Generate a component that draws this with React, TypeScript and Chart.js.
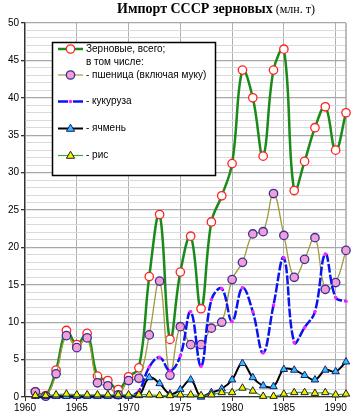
import React, { useEffect, useRef } from "react";
import { Chart, registerables } from "chart.js";

Chart.register(...registerables);

const years = [1961,1962,1963,1964,1965,1966,1967,1968,1969,1970,1971,1972,1973,1974,1975,1976,1977,1978,1979,1980,1981,1982,1983,1984,1985,1986,1987,1988,1989,1990,1991];
const total = [0.7,0.2,3.6,8.9,7.0,8.5,2.8,2.2,1.0,2.7,3.9,16.1,24.4,7.7,16.7,21.5,11.8,23.4,26.9,31.2,43.7,40.0,32.2,43.7,46.5,27.6,31.5,36.0,38.8,33.0,38.0];
const wheat = [0.7,0.1,3.1,8.2,6.6,7.9,1.9,1.5,0.3,2.2,2.5,8.3,15.5,2.9,9.4,7.0,7.0,9.2,10.0,15.7,18.0,21.8,22.1,27.2,21.6,16.0,18.4,21.3,14.4,15.3,19.6];
const corn = [0,0,0,0,0,0,0,0,0,0.1,0.8,4.0,5.3,3.5,5.5,11.4,4.1,13.0,14.5,10.1,14.6,11.4,5.9,12.3,18.6,7.3,9.3,11.4,19.1,13.3,12.8];
const barley = [0.1,0.1,0.1,0.1,0.1,0.1,0.1,0.1,0.1,0.1,0.2,2.6,1.8,0.4,1.0,2.3,0,0.6,1.1,2.3,4.5,2.6,1.5,1.4,3.7,3.6,2.9,2.3,3.6,3.4,4.7];
const rice = [0.2,0.2,0.3,0.4,0.3,0.3,0.3,0.3,0.3,0.3,0.3,0.3,0.2,0.2,0.3,0.3,0.2,0.3,0.6,0.6,1.2,0.8,0.1,0.1,0.4,0.6,0.6,0.5,0.6,0.3,0.4];

const titleBold = "Импорт СССР зерновых";
const titleUnit = " (млн. т)";
const legendLabels = ["Зерновые, всего;", "в том числе:", "- пшеница (включая муку)", "- кукуруза", "- ячмень", "- рис"];

const SANS = "'Liberation Sans', Arial, sans-serif";

function pts(arr: number[]) {
  return arr.map((v, i) => ({ x: years[i], y: v }));
}

function drawTri(ctx: CanvasRenderingContext2D, x: number, y: number, r: number, fill: string, stroke: string) {
  ctx.beginPath();
  const h = r * 1.5;
  ctx.moveTo(x, y - r);
  ctx.lineTo(x + r * 0.95, y + r * 0.65);
  ctx.lineTo(x - r * 0.95, y + r * 0.65);
  ctx.closePath();
  ctx.fillStyle = fill; ctx.fill();
  ctx.strokeStyle = stroke; ctx.lineWidth = 1; ctx.stroke();
  void h;
}

const overlay = {
  id: "overlay",
  beforeDatasetsDraw(chart: any) {
    const ctx = chart.ctx as CanvasRenderingContext2D;
    const a = chart.chartArea;
    ctx.save();
    ctx.strokeStyle = "#a6a6a6";
    ctx.lineWidth = 1.5;
    ctx.beginPath();
    ctx.moveTo(a.right, a.top);
    ctx.lineTo(a.right, a.bottom);
    ctx.stroke();
    ctx.restore();
  },
  afterDraw(chart: any) {
    const ctx = chart.ctx as CanvasRenderingContext2D;
    ctx.save();
    // title
    ctx.fillStyle = "#000";
    ctx.textBaseline = "alphabetic";
    ctx.textAlign = "left";
    ctx.font = "bold 14px 'Liberation Serif', 'Times New Roman', serif";
    const w1 = ctx.measureText(titleBold).width;
    ctx.font = "12px 'Liberation Serif', 'Times New Roman', serif";
    const w2 = ctx.measureText(titleUnit).width;
    const tx = 216 - (w1 + w2) / 2;
    ctx.font = "bold 14px 'Liberation Serif', 'Times New Roman', serif";
    ctx.fillText(titleBold, tx, 13);
    ctx.font = "12px 'Liberation Serif', 'Times New Roman', serif";
    ctx.fillText(titleUnit, tx + w1, 13);

    // legend box
    const bx = 52.5, by = 42.5, bw = 163, bh = 133;
    ctx.fillStyle = "#ffffff";
    ctx.fillRect(bx, by, bw, bh);
    ctx.strokeStyle = "#000";
    ctx.lineWidth = 1.5;
    ctx.strokeRect(bx, by, bw, bh);

    const lx0 = 58, lx1 = 83, mx = 70.5, textX = 86;
    ctx.font = `10px ${SANS}`;
    ctx.textBaseline = "middle";
    ctx.fillStyle = "#000";

    // total
    let y = 49;
    ctx.strokeStyle = "#1a8a1a"; ctx.lineWidth = 2.5; ctx.setLineDash([]);
    ctx.beginPath(); ctx.moveTo(lx0, y); ctx.lineTo(lx1, y); ctx.stroke();
    ctx.beginPath(); ctx.arc(mx, y, 4.2, 0, Math.PI * 2);
    ctx.fillStyle = "#fff"; ctx.fill(); ctx.strokeStyle = "#ff2020"; ctx.lineWidth = 1.3; ctx.stroke();
    ctx.fillStyle = "#000";
    ctx.fillText(legendLabels[0], textX, y);
    ctx.fillText(legendLabels[1], textX, 62);

    // wheat
    y = 75;
    ctx.strokeStyle = "#a09a3c"; ctx.lineWidth = 1.2;
    ctx.beginPath(); ctx.moveTo(lx0, y); ctx.lineTo(lx1, y); ctx.stroke();
    ctx.beginPath(); ctx.arc(mx, y, 4.2, 0, Math.PI * 2);
    ctx.fillStyle = "#f29fd3"; ctx.fill(); ctx.strokeStyle = "#3a2f9a"; ctx.lineWidth = 1.3; ctx.stroke();
    ctx.fillStyle = "#000";
    ctx.fillText(legendLabels[2], textX, y);

    // corn
    y = 101.5;
    ctx.strokeStyle = "#0a14f0"; ctx.lineWidth = 2.5;
    ctx.beginPath(); ctx.moveTo(lx0, y); ctx.lineTo(lx0 + 10, y); ctx.stroke();
    ctx.beginPath(); ctx.moveTo(lx1 - 10, y); ctx.lineTo(lx1, y); ctx.stroke();
    ctx.beginPath(); ctx.arc(mx, y, 1.8, 0, Math.PI * 2);
    ctx.fillStyle = "#ff22ff"; ctx.fill();
    ctx.fillStyle = "#000";
    ctx.fillText(legendLabels[3], textX, y);

    // barley
    y = 128.5;
    ctx.strokeStyle = "#000"; ctx.lineWidth = 2;
    ctx.beginPath(); ctx.moveTo(lx0, y); ctx.lineTo(lx1, y); ctx.stroke();
    drawTri(ctx, mx, y, 4.3, "#2ec4ee", "#1a1a80");
    ctx.fillStyle = "#000";
    ctx.fillText(legendLabels[4], textX, y);

    // rice
    y = 155.5;
    ctx.strokeStyle = "#3aa83a"; ctx.lineWidth = 1.2;
    ctx.beginPath(); ctx.moveTo(lx0, y); ctx.lineTo(lx1, y); ctx.stroke();
    drawTri(ctx, mx, y, 4.3, "#f5f000", "#202020");
    ctx.fillStyle = "#000";
    ctx.fillText(legendLabels[5], textX, y);

    ctx.restore();
  },
};

export default function App() {
  const ref = useRef<HTMLCanvasElement | null>(null);
  useEffect(() => {
    document.body.style.margin = "0";
    const canvas = ref.current!;
    Chart.defaults.font.family = SANS;
    Chart.defaults.color = "#000";
    const chart = new Chart(canvas, {
      type: "line",
      data: {
        datasets: [
          {
            label: "total",
            data: pts(total),
            borderColor: "#1a8a1a",
            borderWidth: 2.5,
            tension: 0.4,
            pointRadius: 4.2,
            pointBackgroundColor: "#ffffff",
            pointBorderColor: "#ff2020",
            pointBorderWidth: 1.3,
            order: 5,
            clip: false as any,
          },
          {
            label: "wheat",
            data: pts(wheat),
            borderColor: "#a09a3c",
            borderWidth: 1.3,
            tension: 0.4,
            pointRadius: 4.2,
            pointBackgroundColor: "#f29fd3",
            pointBorderColor: "#3a2f9a",
            pointBorderWidth: 1.3,
            order: 4,
            clip: false as any,
          },
          {
            label: "corn",
            data: pts(corn),
            borderColor: "#0a14f0",
            borderWidth: 2.5,
            borderDash: [9, 2],
            tension: 0.4,
            pointRadius: 1.8,
            pointBackgroundColor: "#ff22ff",
            pointBorderColor: "#ff22ff",
            pointBorderWidth: 0,
            order: 3,
            clip: false as any,
          },
          {
            label: "barley",
            data: pts(barley),
            borderColor: "#000000",
            borderWidth: 2,
            tension: 0.4,
            pointStyle: "triangle",
            pointRadius: 4.3,
            pointBackgroundColor: "#2ec4ee",
            pointBorderColor: "#1a1a80",
            pointBorderWidth: 1,
            order: 2,
            clip: false as any,
          },
          {
            label: "rice",
            data: pts(rice),
            borderColor: "#3aa83a",
            borderWidth: 1.2,
            tension: 0.4,
            pointStyle: "triangle",
            pointRadius: 4.3,
            pointBackgroundColor: "#f5f000",
            pointBorderColor: "#202020",
            pointBorderWidth: 1,
            order: 1,
            clip: false as any,
          },
        ],
      },
      options: {
        animation: false,
        responsive: false,
        devicePixelRatio: 1,
        layout: { padding: { top: 23, right: 13, left: 0, bottom: 0 } },
        plugins: { legend: { display: false }, tooltip: { enabled: false }, title: { display: false } },
        elements: { line: { capBezierPoints: true } },
        scales: {
          x: {
            type: "linear",
            min: 1960,
            max: 1991,
            afterFit: (s: any) => { s.height = 21; },
            border: { color: "#333", width: 1.2 },
            grid: { color: "#b0b0b0", lineWidth: 1, tickLength: 4, tickColor: "#333" },
            ticks: {
              stepSize: 5,
              includeBounds: false,
              autoSkip: false,
              maxRotation: 0,
              padding: 1,
              font: { size: 10 },
              color: "#000",
              callback: (v: any) => String(v),
            },
          },
          y: {
            min: 0,
            max: 50,
            afterFit: (s: any) => { s.width = 25; },
            border: { color: "#333", width: 1.2 },
            grid: {
              color: (c: any) => (c.tick && c.tick.value % 5 === 0 ? "#a8a8a8" : "#dadada"),
              lineWidth: (c: any) => (c.tick && c.tick.value % 5 === 0 ? 1.3 : 1),
              tickLength: 4,
              tickColor: (c: any) => (c.tick && c.tick.value % 5 === 0 ? "#333" : "rgba(0,0,0,0)"),
            },
            ticks: {
              stepSize: 1,
              maxTicksLimit: 100,
              autoSkip: false,
              padding: 2,
              font: { size: 10 },
              color: "#000",
              callback: (v: any) => (Number(v) % 5 === 0 ? String(v) : ""),
            },
          },
        },
      },
      plugins: [overlay],
    } as any);
    return () => chart.destroy();
  }, []);
  return (
    <div style={{ width: 359, height: 418 }}>
      <canvas ref={ref} width={359} height={418} />
    </div>
  );
}
